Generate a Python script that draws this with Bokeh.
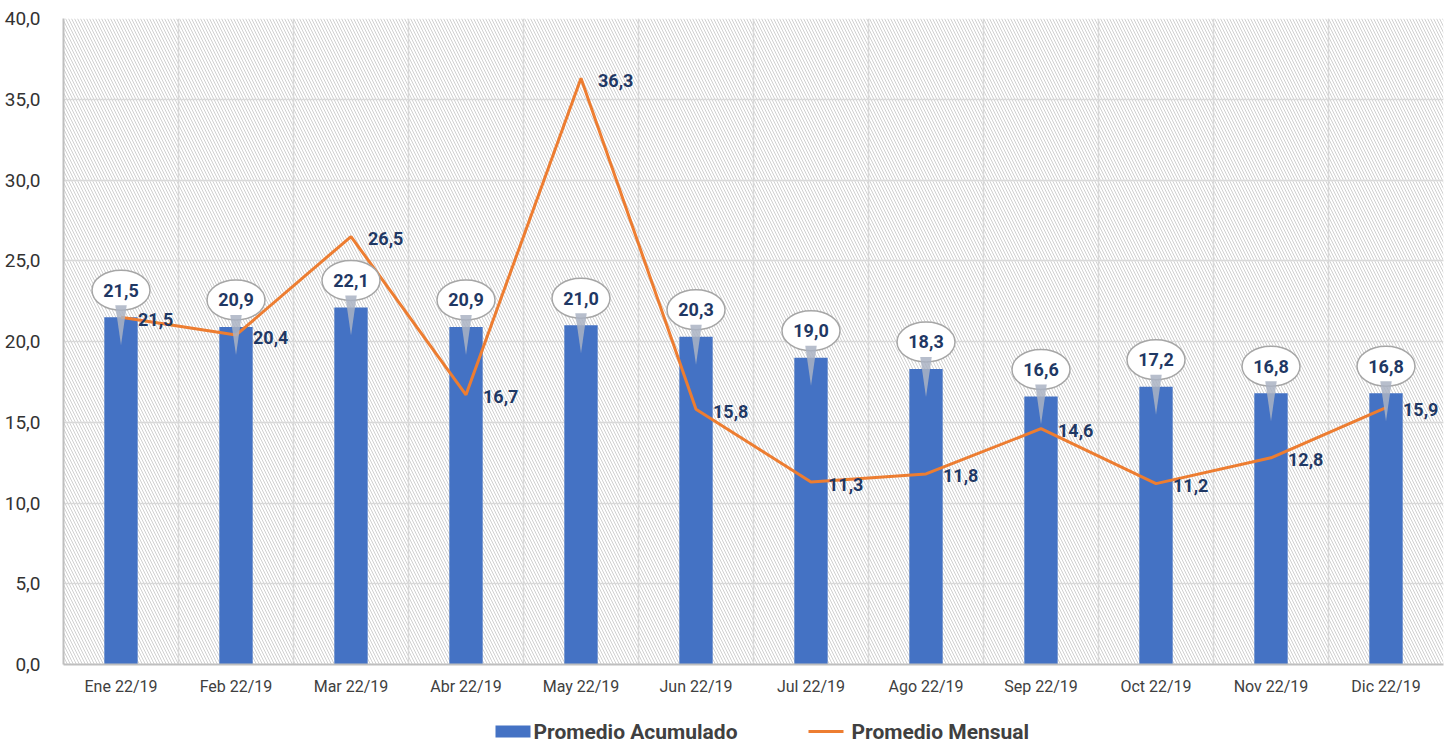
from bokeh.plotting import figure
from bokeh.layouts import column
from bokeh.models import ColumnDataSource, FixedTicker, BoxAnnotation, Range1d
from bokeh.core.properties import value
from bokeh.embed import file_html
from bokeh.resources import INLINE

months = ["Ene 22/19", "Feb 22/19", "Mar 22/19", "Abr 22/19", "May 22/19", "Jun 22/19",
          "Jul 22/19", "Ago 22/19", "Sep 22/19", "Oct 22/19", "Nov 22/19", "Dic 22/19"]
acumulado = [21.5, 20.9, 22.1, 20.9, 21.0, 20.3, 19.0, 18.3, 16.6, 17.2, 16.8, 16.8]
mensual = [21.5, 20.4, 26.5, 16.7, 36.3, 15.8, 11.3, 11.8, 14.6, 11.2, 12.8, 15.9]
y_ticks = [0, 5, 10, 15, 20, 25, 30, 35, 40]
series_names = ["Promedio Acumulado", "Promedio Mensual"]

def fmt(v):
    return f"{v:.1f}".replace(".", ",")

W = 1448
H_MAIN, H_LEG = 700, 44
FRAME_L, FRAME_R = 63, 1443
frame_h = 646.0
px_per_unit = frame_h / 40.0
x = list(range(len(months)))

FONT = "Roboto"
NAVY = "#1f3864"
BLUE = "#4472c4"
ORANGE = "#ed7d31"

p = figure(width=W, height=H_MAIN, output_backend="svg", toolbar_location=None,
           x_range=Range1d(-0.5, len(months) - 0.5), y_range=Range1d(0, 40))
p.min_border_left = FRAME_L
p.min_border_right = W - FRAME_R
p.min_border_top = 18
p.min_border_bottom = 36
p.outline_line_color = None
p.background_fill_color = "white"

# hatched plot background
p.add_layout(BoxAnnotation(fill_alpha=0, hatch_pattern="left_diagonal_line",
                           hatch_color="#d0d0d0", hatch_scale=6, hatch_weight=1,
                           line_color=None, level="image"))

# axes
p.yaxis.ticker = FixedTicker(ticks=y_ticks)
p.yaxis.major_label_overrides = {t: fmt(t) for t in y_ticks}
p.yaxis.major_label_text_font = FONT
p.yaxis.major_label_text_font_size = "19px"
p.yaxis.major_label_text_color = "#333333"
p.yaxis.major_label_standoff = 17
p.yaxis.major_tick_line_color = None
p.yaxis.minor_tick_line_color = None
p.yaxis.axis_line_color = "#bfbfbf"
p.yaxis.axis_line_width = 2

p.xaxis.ticker = FixedTicker(ticks=x)
p.xaxis.major_label_overrides = {i: m for i, m in enumerate(months)}
p.xaxis.major_label_text_font = FONT
p.xaxis.major_label_text_font_size = "16px"
p.xaxis.major_label_text_color = "#404040"
p.xaxis.major_label_standoff = 6
p.xaxis.major_tick_line_color = None
p.xaxis.minor_tick_line_color = None
p.xaxis.axis_line_color = "#bfbfbf"
p.xaxis.axis_line_width = 2

p.ygrid.grid_line_color = "#d9d9d9"
p.ygrid.grid_line_width = 1.5
p.xgrid.ticker = FixedTicker(ticks=[i - 0.5 for i in range(len(months) + 1)])
p.xgrid.grid_line_color = "#d9d9d9"
p.xgrid.grid_line_width = 1.5

src = ColumnDataSource(dict(x=x, acum=acumulado, mens=mensual,
                            acum_lbl=[fmt(v) for v in acumulado],
                            mens_lbl=[fmt(v) for v in mensual],
                            bub_y=[v + 27 / px_per_unit for v in acumulado]))

p.vbar(x="x", top="acum", width=0.29, source=src, fill_color=BLUE, line_color=None)
p.line(x="x", y="mens", source=src, line_color=ORANGE, line_width=3)

# callout bubbles
p.ellipse(x="x", y="bub_y", width=58, height=40, width_units="screen", height_units="screen",
          source=src, fill_color="white", line_color="#a6a6a6", line_width=1.5)
tail_xs = [[i - 0.05, i + 0.05, i] for i in x]
tail_ys = [[v + 12 / px_per_unit, v + 12 / px_per_unit, v - 28 / px_per_unit] for v in acumulado]
p.patches(xs=tail_xs, ys=tail_ys, fill_color="#aab3c3", fill_alpha=0.85, line_color=None)

p.text(x="x", y="bub_y", text="acum_lbl", source=src, text_align="center",
       text_baseline="middle", text_font=value(FONT), text_font_style="bold",
       text_font_size="18px", text_color=NAVY)
p.text(x="x", y="mens", text="mens_lbl", source=src, text_align="left",
       text_baseline="middle", x_offset=17, y_offset=2, text_font=value(FONT),
       text_font_style="bold", text_font_size="18px", text_color=NAVY)

# legend strip below the chart (x range in screen pixels, aligned with the main frame)
lg = figure(width=W, height=H_LEG, output_backend="svg", toolbar_location=None,
            x_range=Range1d(FRAME_L, FRAME_R), y_range=Range1d(0, H_LEG),
            x_axis_location=None, y_axis_location=None)
lg.min_border_left = FRAME_L
lg.min_border_right = W - FRAME_R
lg.min_border_top = 0
lg.min_border_bottom = 0
lg.outline_line_color = None
lg.grid.visible = False
ly = H_LEG - 31
lg.quad(left=[495], right=[530], bottom=[ly - 6], top=[ly + 6], fill_color=BLUE, line_color=None)
lg.line(x=[808, 843], y=[ly, ly], line_color=ORANGE, line_width=3)
lg.text(x=[533, 851], y=[ly, ly], text=series_names, text_align="left",
        text_baseline="middle", text_font=value(FONT), text_font_style="bold",
        text_font_size="21px", text_color="#404040")

layout = column(p, lg, spacing=0)
open("out.html", "w").write(file_html(layout, INLINE))
